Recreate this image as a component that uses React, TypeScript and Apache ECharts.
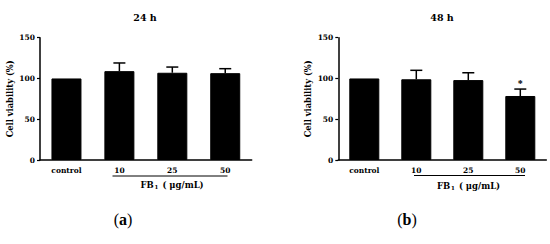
import React, { useEffect, useRef } from "react";
import * as echarts from "echarts";

const categories = ["control", "10", "25", "50"];
const means24 = [100, 109, 107, 106.5];
const errs24 = [0, 10, 7, 5.5];
const means48 = [100, 99, 98, 78.5];
const errs48 = [0, 11, 9, 8.5];
const sig24 = ["", "", "", ""];
const sig48 = ["", "", "", "*"];
const yTicks = [0, 50, 100, 150];

const FONT = "'DejaVu Serif', 'Liberation Serif', serif";
const CAPFONT = "'Liberation Serif', 'Times New Roman', serif";

function errSeries(idx: number, means: number[], errs: number[], sig: string[]) {
  return {
    type: "custom",
    xAxisIndex: idx,
    yAxisIndex: idx,
    z: 5,
    data: means.map((m, i) => [i, m, m + errs[i]]),
    renderItem: (params: any, api: any) => {
      const i = params.dataIndex;
      const x = api.value(0);
      const lo = api.coord([x, api.value(1)]);
      const hi = api.coord([x, api.value(2)]);
      const children: any[] = [];
      if (errs[i] > 0) {
        children.push({
          type: "line",
          shape: { x1: lo[0], y1: lo[1], x2: hi[0], y2: hi[1] },
          style: { stroke: "#000", lineWidth: 1.5 },
        });
        children.push({
          type: "line",
          shape: { x1: hi[0] - 6, y1: hi[1], x2: hi[0] + 6, y2: hi[1] },
          style: { stroke: "#000", lineWidth: 1.5 },
        });
      }
      if (sig[i]) {
        children.push({
          type: "text",
          x: hi[0],
          y: hi[1] - 0.5,
          style: {
            text: sig[i],
            textAlign: "center",
            textVerticalAlign: "bottom",
            fontFamily: CAPFONT,
            fontWeight: "bold",
            fontSize: 10,
            fill: "#000",
          },
        });
      }
      return { type: "group", children };
    },
  };
}

export default function App() {
  const ref = useRef<HTMLDivElement>(null);
  useEffect(() => {
    if (!ref.current) return;
    const chart = echarts.init(ref.current, null, { renderer: "svg" });
    const axisText = { fontFamily: FONT, fontWeight: "bold" as const, color: "#000" };
    const mkX = (gi: number) => ({
      type: "category",
      gridIndex: gi,
      data: categories,
      axisLine: { lineStyle: { color: "#000", width: 1.5 } },
      axisTick: { alignWithLabel: true, length: 3, lineStyle: { color: "#000", width: 1.2 } },
      axisLabel: { ...axisText, fontSize: 7.5, margin: 6 },
    });
    const mkY = (gi: number) => ({
      type: "value",
      gridIndex: gi,
      min: 0,
      max: 150,
      interval: 50,
      name: "Cell viability (%)",
      nameLocation: "middle",
      nameRotate: 90,
      nameGap: 26,
      nameTextStyle: { ...axisText, fontSize: 8.3 },
      splitLine: { show: false },
      axisLine: { show: true, lineStyle: { color: "#000", width: 1.5 } },
      axisTick: { show: true, length: 3, lineStyle: { color: "#000", width: 1.2 } },
      axisLabel: {
        ...axisText,
        fontSize: 7.5,
        margin: 5,
        formatter: (v: number) => (yTicks.includes(v) ? String(v) : ""),
      },
    });
    const barStyle = { color: "#000", borderColor: "#000", borderWidth: 1 };
    const mainText = { fontFamily: FONT, fontWeight: "bold", fill: "#000" };
    const fbRich = {
      m: { fontFamily: FONT, fontWeight: "bold", fontSize: 8.5, fill: "#000" },
      s: { fontFamily: FONT, fontWeight: "bold", fontSize: 5.5, fill: "#000", verticalAlign: "bottom", padding: [4, 1, 0, 1] },
    };
    const capRich = {
      n: { fontFamily: CAPFONT, fontSize: 16, fill: "#000" },
      b: { fontFamily: CAPFONT, fontSize: 16, fontWeight: "bold", fill: "#000" },
    };
    chart.setOption({
      animation: false,
      backgroundColor: "#fff",
      grid: [
        { left: 40, top: 37.7, width: 211.7, height: 122.3 },
        { left: 338.3, top: 37.7, width: 208, height: 122.3 },
      ],
      xAxis: [mkX(0), mkX(1)],
      yAxis: [mkY(0), mkY(1)],
      series: [
        { type: "bar", xAxisIndex: 0, yAxisIndex: 0, data: means24, barWidth: 30, itemStyle: barStyle },
        errSeries(0, means24, errs24, sig24),
        { type: "bar", xAxisIndex: 1, yAxisIndex: 1, data: means48, barWidth: 30, itemStyle: barStyle },
        errSeries(1, means48, errs48, sig48),
      ],
      graphic: [
        { type: "text", x: 145, y: 17, style: { ...mainText, text: "24 h", fontSize: 9.5, textAlign: "center", textVerticalAlign: "middle" } },
        { type: "text", x: 442, y: 17, style: { ...mainText, text: "48 h", fontSize: 9.5, textAlign: "center", textVerticalAlign: "middle" } },
        { type: "line", shape: { x1: 112.5, y1: 176, x2: 227.5, y2: 176 }, style: { stroke: "#000", lineWidth: 1 } },
        { type: "line", shape: { x1: 414, y1: 175.5, x2: 525, y2: 175.5 }, style: { stroke: "#000", lineWidth: 1 } },
        { type: "text", x: 172, y: 185, style: { text: "{m|FB}{s|1}{m| ( μg/mL)}", rich: fbRich, textAlign: "center", textVerticalAlign: "middle" } },
        { type: "text", x: 468.5, y: 186, style: { text: "{m|FB}{s|1}{m| ( μg/mL)}", rich: fbRich, textAlign: "center", textVerticalAlign: "middle" } },
        { type: "text", x: 123, y: 219, style: { text: "{n|(}{b|a}{n|)}", rich: capRich, textAlign: "center", textVerticalAlign: "middle" } },
        { type: "text", x: 407, y: 219, style: { text: "{n|(}{b|b}{n|)}", rich: capRich, textAlign: "center", textVerticalAlign: "middle" } },
      ],
    });
    return () => chart.dispose();
  }, []);
  return (
    <div
      ref={ref}
      style={{ position: "absolute", left: 0, top: 0, width: 550, height: 244, background: "#fff" }}
    />
  );
}
